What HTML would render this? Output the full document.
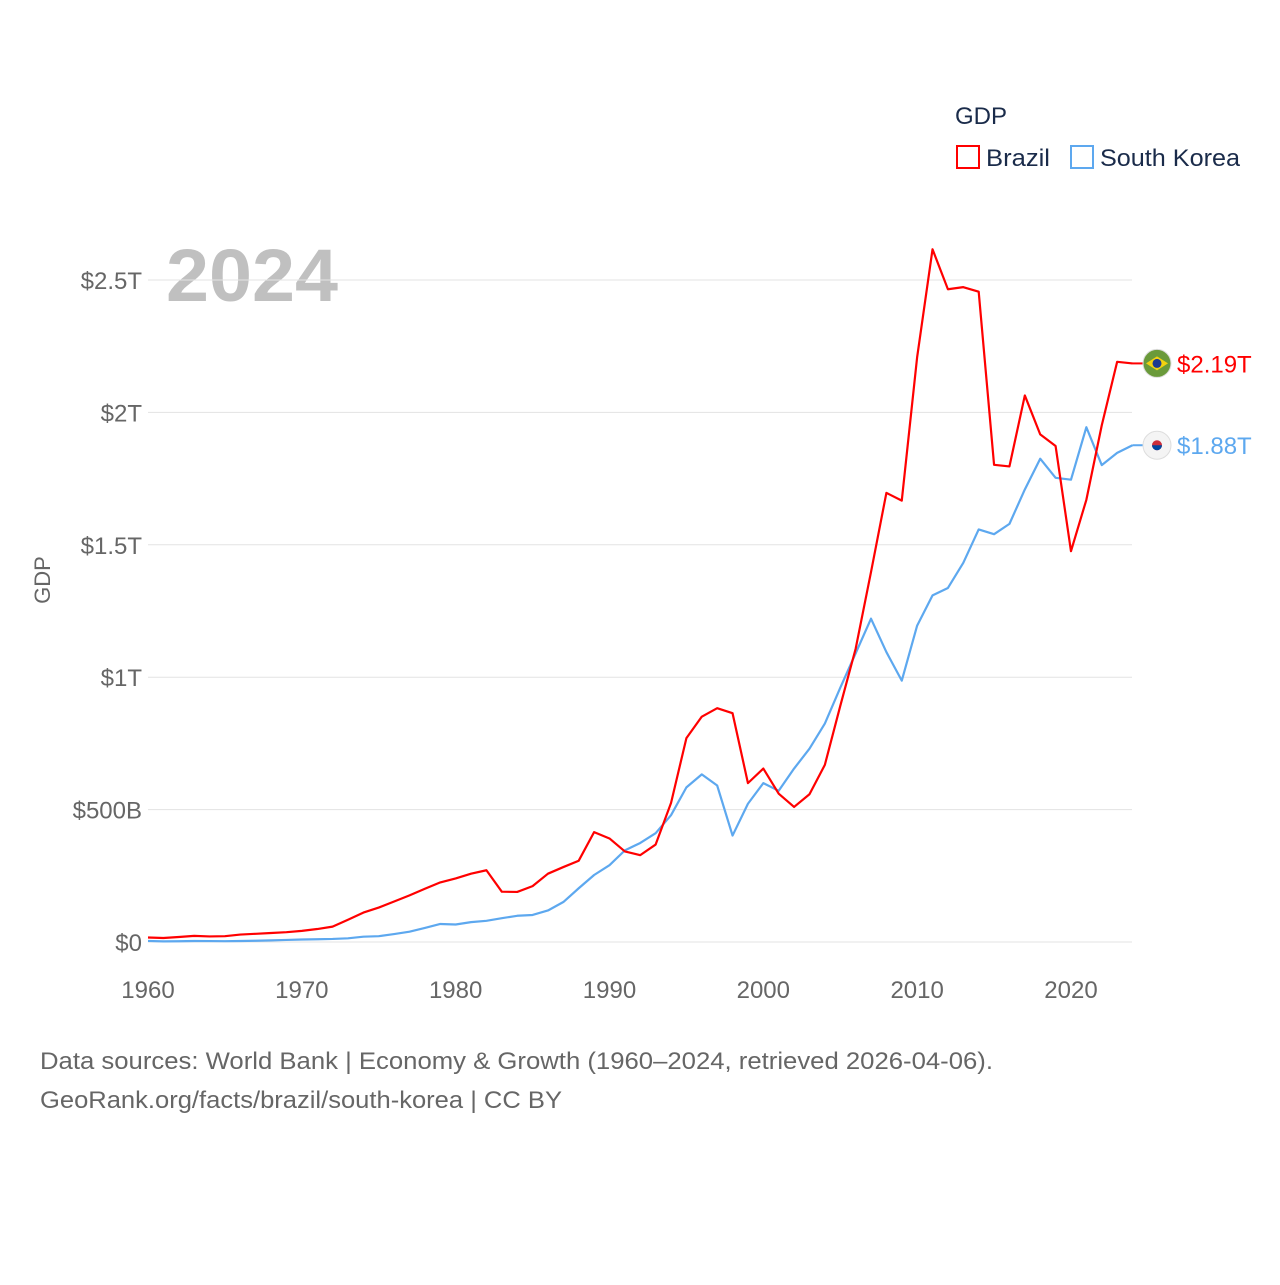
<!DOCTYPE html>
<html><head><meta charset="utf-8"><style>
body{margin:0;background:#fff;}
svg text{font-family:"Liberation Sans",sans-serif;}
</style></head><body>
<svg id="chart" width="1280" height="1280" xmlns="http://www.w3.org/2000/svg">
<text x="955" y="124" font-size="24" fill="#1a2b4a">GDP</text>
<g><rect x="957" y="146" width="22" height="22" fill="none" stroke="#ff0000" stroke-width="2"/><text x="986" y="166" font-size="24" fill="#1a2b4a" textLength="64" lengthAdjust="spacingAndGlyphs">Brazil</text></g>
<g><rect x="1071" y="146" width="22" height="22" fill="none" stroke="#5da8ef" stroke-width="2"/><text x="1100" y="166" font-size="24" fill="#1a2b4a" textLength="140" lengthAdjust="spacingAndGlyphs">South Korea</text></g>
<text x="166" y="301" font-size="74" font-weight="bold" fill="#c0c0c0" textLength="172" lengthAdjust="spacingAndGlyphs">2024</text>
<text transform="translate(50,580) rotate(-90)" text-anchor="middle" font-size="22" fill="#666">GDP</text>
<g id="grid"></g><g id="yticks"></g><g id="xticks"></g><g id="lines"></g><g id="ends"></g>
<text x="40" y="1069" font-size="24" fill="#666" textLength="953" lengthAdjust="spacingAndGlyphs">Data sources: World Bank | Economy &amp; Growth (1960–2024, retrieved 2026-04-06).</text>
<text x="40" y="1108" font-size="24" fill="#666" textLength="522" lengthAdjust="spacingAndGlyphs">GeoRank.org/facts/brazil/south-korea | CC BY</text>
</svg>
<script>
const years=[];for(let y=1960;y<=2024;y++)years.push(y);
const brazil=[17,15,19,23,21,22,28,31,34,37,42,49,58,84,111,130,153,176,201,225,240,258,271,190,189,211,258,283,307,415,391,342,328,368,525,770,851,883,864,600,655,560,510,558,669,891,1107,1397,1696,1667,2209,2616,2465,2473,2456,1802,1796,2064,1917,1873,1476,1670,1951,2191,2185];
const korea=[4,2.4,2.8,3.9,3.5,3.1,3.8,4.8,6.1,7.7,9.4,10.5,11.5,14,20,22,30,39,53,68,66,75,80,90,99,102,119,151,203,253,290,346,374,411,479,584,633,591,402,522,600,571,655,730,825,960,1090,1221,1095,987,1195,1309,1337,1432,1558,1540,1579,1709,1825,1753,1746,1944,1801,1847,1876];
const yTickVals=[0,500,1000,1500,2000,2500];
const yTickLabels=["$0","$500B","$1T","$1.5T","$2T","$2.5T"];
const xTickVals=[1960,1970,1980,1990,2000,2010,2020];
const endLabels=["$2.19T","$1.88T"];
const NS="http://www.w3.org/2000/svg";
const X=y=>148+(y-1960)*15.383;
const Y=v=>942-v*0.2648;
function mk(tag,attrs,parent,txt){const e=document.createElementNS(NS,tag);for(const k in attrs)e.setAttribute(k,attrs[k]);if(txt!==undefined)e.textContent=txt;document.getElementById(parent).appendChild(e);return e;}
yTickVals.forEach((v,i)=>{
 const l=mk('line',{x1:148,x2:1132,y1:Y(v),y2:Y(v),stroke:'#e3e3e3','stroke-width':1},'grid');
 
 
 const t=mk('text',{x:142,y:Y(v)+9,'text-anchor':'end','font-size':24,fill:'#666'},'yticks',yTickLabels[i]);
 
 
});
xTickVals.forEach(v=>{
 const t=mk('text',{x:X(v),y:998,'text-anchor':'middle','font-size':24,fill:'#666'},'xticks',String(v));
 
 
});
function line(data,color,name){
 const p=mk('polyline',{points:data.map((v,i)=>X(years[i])+','+Y(v)).join(' '),fill:'none',stroke:color,'stroke-width':2.2,'stroke-linejoin':'round'},'lines');
 
 
}
line(korea,'#5da8ef','south-korea-line');
line(brazil,'#ff0000','brazil-line');
const last=years.length-1;
[[brazil,'#ff0000','#6a9a3a',0],[korea,'#5da8ef','#f4f4f4',1]].forEach(([d,c,fc,i])=>{
 const yy=Y(d[last]);
 const ln=mk('line',{x1:X(2024),x2:1145,y1:yy,y2:yy,stroke:c,'stroke-width':2},'ends');
 
 
 const f=mk('circle',{cx:1157,cy:yy,r:14,fill:fc,stroke:'#ddd'},'ends');
 
 
 if(i===0){mk('polygon',{points:`1146,${yy} 1157,${yy-7} 1168,${yy} 1157,${yy+7}`,fill:'#f2d20f'},'ends');mk('circle',{cx:1157,cy:yy,r:4.5,fill:'#1d3b8f'},'ends');}
 else{mk('circle',{cx:1157,cy:yy,r:5,fill:'#cd2e3a'},'ends');mk('path',{d:`M1152,${yy} a5,5 0 0,0 10,0z`,fill:'#0047a0'},'ends');}
 const t=mk('text',{x:1177,y:yy+9,'font-size':24,fill:c},'ends',endLabels[i]);
 
 
});
</script>
</body></html>
